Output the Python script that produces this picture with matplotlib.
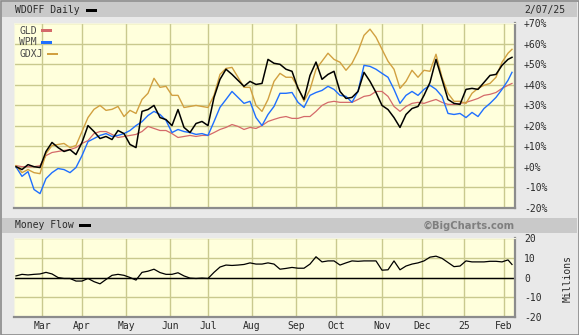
import numpy as np
import pandas as pd
import matplotlib
matplotlib.use("Agg")
import matplotlib.pyplot as plt
from matplotlib.patches import Rectangle

# ---------------- data ----------------
start_date = "2024-02-12"
end_date = "2025-02-07"
holidays = ["2024-02-19", "2024-03-29", "2024-05-27", "2024-06-19", "2024-07-04",
            "2024-09-02", "2024-11-28", "2024-12-25", "2025-01-01", "2025-01-09",
            "2025-01-20"]
month_labels = ["Mar", "Apr", "May", "Jun", "Jul", "Aug", "Sep", "Oct", "Nov", "Dec", "25", "Feb"]
pct_ticks = [70, 60, 50, 40, 30, 20, 10, 0, -10, -20]
mf_ticks = [20, 10, 0, -10, -20]

# values sampled every 3rd trading day (plus the last day), % change
wdoff = [0.1, -1.3, 1.1, 0.1, -0.3, 7.5, 11.9, 9.4, 7.5, 8.4,
         6.0, 11.9, 20.1, 17.2, 13.8, 14.8, 13.3, 17.7, 16.2, 10.9,
         9.4, 27.0, 27.9, 29.9, 24.0, 23.0, 20.1, 27.9, 19.2, 16.7,
         21.1, 22.1, 20.1, 33.8, 42.6, 47.5, 45.0, 42.1, 39.2, 41.6,
         40.1, 40.6, 52.3, 50.4, 49.9, 47.5, 46.5, 38.2, 32.8, 44.5,
         51.0, 42.6, 45.0, 46.5, 36.7, 33.3, 33.8, 36.7, 46.0, 41.6,
         36.2, 29.9, 27.9, 24.0, 19.2, 25.5, 28.4, 29.4, 34.8, 41.1,
         52.3, 42.6, 32.8, 30.9, 30.4, 37.7, 38.2, 37.7, 41.1, 44.5,
         45.0, 49.4, 52.3, 53.3]
gld = [0.6, 0.1, 0.1, 0.1, 0.6, 5.5, 7.0, 7.5, 8.0, 8.4,
       9.4, 11.4, 12.8, 16.2, 17.2, 17.2, 15.8, 14.3, 14.8, 15.3,
       15.8, 17.2, 19.7, 18.7, 17.7, 17.7, 16.2, 14.3, 14.8, 15.3,
       14.8, 15.3, 15.3, 16.7, 18.2, 19.2, 20.6, 19.7, 18.2, 19.2,
       18.7, 20.1, 22.1, 23.1, 24.0, 24.5, 23.6, 23.6, 24.5, 24.5,
       27.0, 29.9, 31.4, 31.9, 31.4, 31.4, 31.4, 32.8, 34.3, 34.8,
       36.7, 36.7, 34.3, 29.4, 27.0, 29.4, 30.9, 31.4, 30.9, 31.9,
       32.8, 31.4, 30.4, 30.4, 30.9, 31.4, 32.3, 33.3, 34.8, 35.3,
       36.2, 38.2, 39.7, 40.6]
wpm = [0.0, -4.6, -2.3, -11.0, -13.0, -5.7, -2.8, -0.8, -1.3, -2.8,
       -0.3, 5.5, 12.3, 13.8, 15.3, 16.2, 14.8, 15.3, 16.2, 17.7,
       20.1, 22.0, 25.0, 27.0, 25.5, 22.6, 16.7, 18.2, 17.2, 16.7,
       15.8, 16.2, 15.3, 22.0, 29.0, 32.8, 36.7, 33.8, 30.9, 31.9,
       24.0, 20.1, 25.5, 29.4, 35.8, 35.8, 36.2, 31.4, 28.9, 34.8,
       36.2, 37.2, 39.2, 37.7, 34.8, 34.3, 31.4, 36.7, 49.4, 48.9,
       47.5, 45.5, 43.6, 37.7, 30.9, 34.8, 36.7, 34.8, 37.7, 39.7,
       37.7, 34.3, 26.0, 25.5, 26.0, 24.0, 26.5, 24.5, 28.4, 30.9,
       33.8, 37.7, 42.1, 46.0]
gdxj = [0.6, -2.8, -1.3, -2.8, -3.3, 6.5, 10.4, 10.9, 11.4, 9.4,
        10.4, 17.2, 24.0, 28.0, 29.9, 27.5, 28.0, 29.4, 24.5, 27.5,
        26.0, 32.8, 35.8, 43.1, 38.7, 39.2, 34.8, 34.8, 28.9, 29.4,
        29.9, 29.4, 28.9, 34.8, 45.0, 47.9, 48.4, 43.6, 38.7, 38.7,
        29.9, 27.0, 32.8, 41.6, 45.5, 43.6, 43.6, 38.7, 31.9, 37.7,
        47.5, 51.4, 55.3, 52.3, 50.9, 47.0, 50.4, 56.2, 64.0, 67.0,
        63.1, 57.2, 51.4, 47.5, 38.2, 41.6, 47.0, 43.6, 47.0, 46.5,
        54.8, 43.6, 35.8, 31.9, 31.9, 30.9, 35.8, 38.2, 39.7, 40.6,
        43.6, 50.9, 55.3, 57.2]
money_flow = [0.8, 1.6, 1.3, 1.6, 1.8, 2.6, 1.8, 0.0, -0.5, -0.5,
              -1.8, -1.8, -0.5, -2.1, -3.2, -1.0, 1.1, 1.6, 1.1, 0.0,
              -1.3, 2.6, 3.2, 4.2, 2.5, 1.6, 1.6, 2.4, 0.8, -0.3,
              -0.5, -0.3, -0.5, 2.6, 5.3, 6.3, 6.1, 6.3, 6.6, 7.4,
              6.8, 6.8, 7.4, 6.8, 4.2, 4.6, 5.1, 4.7, 4.7, 6.8,
              10.5, 7.9, 8.4, 8.4, 6.3, 7.4, 8.4, 8.2, 8.4, 8.4,
              8.4, 3.7, 3.9, 8.4, 3.9, 5.8, 6.8, 7.4, 8.4, 10.3,
              10.8, 9.7, 7.6, 5.5, 5.8, 8.4, 7.9, 7.9, 7.9, 8.2,
              8.2, 7.9, 8.9, 6.6]

# ---------------- trading calendar ----------------
days = pd.bdate_range(start_date, end_date)
days = days[~days.isin(pd.to_datetime(holidays))]
n_days = len(days)
sample_idx = list(range(0, n_days - 2, 3)) + [n_days - 1]
x = np.array(sample_idx[:len(wdoff)])
month_starts = [i for i in range(1, n_days) if days[i].month != days[i - 1].month]

# ---------------- figure ----------------
W, H = 579, 335
fig = plt.figure(figsize=(W / 100, H / 100), dpi=100)
fig.patch.set_facecolor("#e9e9e9")

def fx(px):
    return px / W

def fy(py):
    return 1 - py / H

def frect(x0, y0, x1, y1, **kw):
    fig.patches.append(Rectangle((fx(x0), fy(y1)), fx(x1) - fx(x0), fy(y0) - fy(y1),
                                 transform=fig.transFigure, figure=fig, **kw))

# outer border and header bars
frect(0.5, 0.5, W - 0.5, H - 0.5, facecolor="none", edgecolor="#8a8a8a", lw=1.2)
frect(2, 2, W - 2, 17, facecolor="#c9c9c9", edgecolor="none")
frect(2, 218, W - 2, 233, facecolor="#c9c9c9", edgecolor="none")

mono = "DejaVu Sans Mono"
txtc = "#2a2a2a"
fs = 7

fig.text(fx(15), fy(10), "WDOFF Daily", fontfamily=mono, fontsize=fs, color=txtc, va="center")
frect(86, 8.5, 97, 11.5, facecolor="black", edgecolor="none")
fig.text(fx(524), fy(10), "2/07/25", fontfamily=mono, fontsize=fs, color=txtc, va="center")
fig.text(fx(15), fy(225.5), "Money Flow", fontfamily=mono, fontsize=fs, color=txtc, va="center")
frect(79, 224, 91, 227, facecolor="black", edgecolor="none")
fig.text(fx(515), fy(225.5), "\u00a9BigCharts.com", fontfamily="DejaVu Sans", fontweight="bold",
         fontsize=7.2, color="#7f7f7f", va="center", ha="right")
fig.text(fx(568), fy(278), "Millions", fontfamily=mono, fontsize=fs, color=txtc,
         va="center", ha="center", rotation=90)

plot_bg = "#ffffdc"
grid_c = "#c9c98e"
xl = (-1, n_days + 0.5)

# ---------------- main panel ----------------
ax = fig.add_axes([fx(14), fy(208), fx(515) - fx(14), fy(23) - fy(208)])
ax.set_facecolor(plot_bg)
ax.set_xlim(*xl)
ax.set_ylim(-20, 70)
ax.set_xticks(month_starts)
ax.set_xticklabels([])
ax.set_yticks(pct_ticks)
ax.set_yticklabels([("+%d%%" % v) if v >= 0 else ("%d%%" % v) for v in pct_ticks])
ax.yaxis.tick_right()
ax.tick_params(axis="both", length=0)
ax.tick_params(axis="y", pad=6.5, labelsize=fs, labelcolor=txtc)
for lab in ax.get_yticklabels():
    lab.set_fontfamily(mono)
    lab.set_horizontalalignment("left")
ax.grid(True, color=grid_c, lw=1.0)
ax.set_axisbelow(True)
for s in ["left", "top"]:
    ax.spines[s].set_color("#f4f4e0")
for s in ["right", "bottom"]:
    ax.spines[s].set_color("#8c8c8c")
    ax.spines[s].set_linewidth(1.6)

ax.plot(x, gld, color="#d46a6a", lw=0.9)
ax.plot(x, wpm, color="#1f6fff", lw=1.0)
ax.plot(x, gdxj, color="#d1a040", lw=1.0)
ax.plot(x, wdoff, color="black", lw=1.1)

legend_items = [("GLD", "#d46a6a", 41), ("WPM", "#1f6fff", 41), ("GDXJ", "#d1a040", 47)]
for k, (name, col, sx) in enumerate(legend_items):
    yy = 30.5 + 11.8 * k
    fig.text(fx(19), fy(yy), name, fontfamily=mono, fontsize=fs, color="#4a4a4a", va="center")
    frect(sx, yy - 1.2, sx + 11, yy + 1.2, facecolor=col, edgecolor="none")

# ---------------- money flow panel ----------------
ax2 = fig.add_axes([fx(14), fy(317), fx(515) - fx(14), fy(238) - fy(317)])
ax2.set_facecolor(plot_bg)
ax2.set_xlim(*xl)
ax2.set_ylim(-20, 20)
ax2.set_xticks(month_starts)
ax2.set_xticklabels(month_labels)
ax2.set_yticks(mf_ticks)
ax2.set_yticklabels([str(v) for v in mf_ticks])
ax2.yaxis.tick_right()
ax2.tick_params(axis="both", length=0, labelsize=fs, labelcolor=txtc)
ax2.tick_params(axis="y", pad=6.5)
ax2.tick_params(axis="x", pad=3)
for lab in ax2.get_yticklabels() + ax2.get_xticklabels():
    lab.set_fontfamily(mono)
for lab in ax2.get_yticklabels():
    lab.set_horizontalalignment("left")
ax2.grid(True, color=grid_c, lw=1.0)
ax2.set_axisbelow(True)
for s in ["left", "top"]:
    ax2.spines[s].set_color("#f4f4e0")
for s in ["right", "bottom"]:
    ax2.spines[s].set_color("#8c8c8c")
    ax2.spines[s].set_linewidth(1.6)
ax2.axhline(0, color="black", lw=1.0)
ax2.plot(x, money_flow, color="black", lw=0.9)

fig.savefig("out.png", dpi=100, facecolor=fig.get_facecolor())
